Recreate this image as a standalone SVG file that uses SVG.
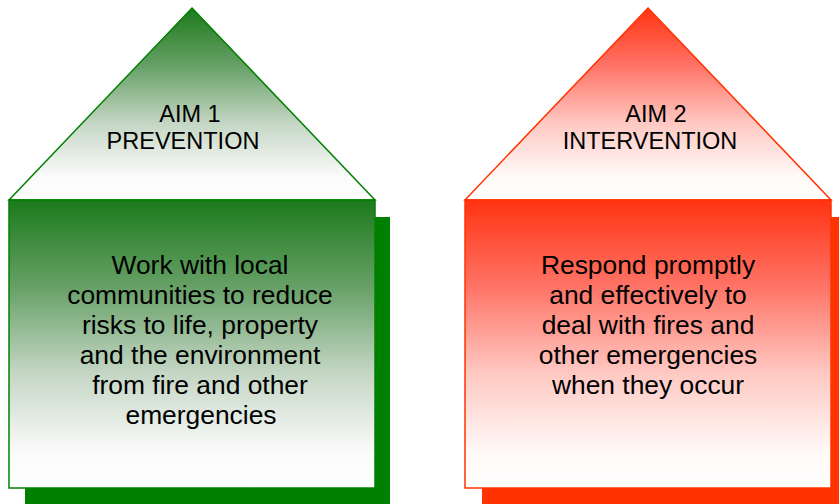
<svg xmlns="http://www.w3.org/2000/svg" width="839" height="504" viewBox="0 0 839 504">
  <style>
    text { font-family: "Liberation Sans", Arial, sans-serif; fill: #000; text-anchor: middle; }
    .title { font-size: 23.5px; }
    .body { font-size: 26.4px; }
    .green-line { stroke: #008000; stroke-width: 1.5; }
    .red-line { stroke: #ff3300; stroke-width: 1.5; }
  </style>
  <defs>
    <linearGradient id="greenFade" x1="0" y1="0" x2="0" y2="1">
      <stop offset="0" stop-color="#1c7a1c"/>
      <stop offset="0.3" stop-color="#66a066"/>
      <stop offset="0.6" stop-color="#c4d6c4"/>
      <stop offset="0.88" stop-color="#fbfbfb"/>
      <stop offset="1" stop-color="#ffffff"/>
    </linearGradient>
    <linearGradient id="redFade" x1="0" y1="0" x2="0" y2="1">
      <stop offset="0" stop-color="#ff3311"/>
      <stop offset="0.3" stop-color="#ff7366"/>
      <stop offset="0.6" stop-color="#ffc8c2"/>
      <stop offset="0.88" stop-color="#fffaf8"/>
      <stop offset="1" stop-color="#ffffff"/>
    </linearGradient>
  </defs>

  <!-- Aim 1: prevention house -->
  <g id="aim1">
    <rect x="25" y="217" width="365" height="290" fill="#008000"/>
    <polygon points="192,8 375,200 9,200" fill="url(#greenFade)" class="green-line"/>
    <rect x="9" y="200" width="366" height="288" fill="url(#greenFade)" class="green-line"/>
    <text class="title" x="190" y="122">AIM 1</text>
    <text class="title" x="183" y="149">PREVENTION</text>
    <text class="body" x="200" y="274">Work with local</text>
    <text class="body" x="200" y="304">communities to reduce</text>
    <text class="body" x="200" y="334">risks to life, property</text>
    <text class="body" x="200" y="364">and the environment</text>
    <text class="body" x="200" y="394">from fire and other</text>
    <text class="body" x="201" y="424">emergencies</text>
  </g>

  <!-- Aim 2: intervention house -->
  <g id="aim2">
    <rect x="482" y="217" width="365" height="290" fill="#ff3300"/>
    <polygon points="648,8 831,200 465,200" fill="url(#redFade)" class="red-line"/>
    <rect x="465" y="200" width="366" height="288" fill="url(#redFade)" class="red-line"/>
    <text class="title" x="656" y="122">AIM 2</text>
    <text class="title" x="650" y="149">INTERVENTION</text>
    <text class="body" x="648" y="274">Respond promptly</text>
    <text class="body" x="648" y="304">and effectively to</text>
    <text class="body" x="648" y="334">deal with fires and</text>
    <text class="body" x="648" y="364">other emergencies</text>
    <text class="body" x="648" y="394">when they occur</text>
  </g>
</svg>
